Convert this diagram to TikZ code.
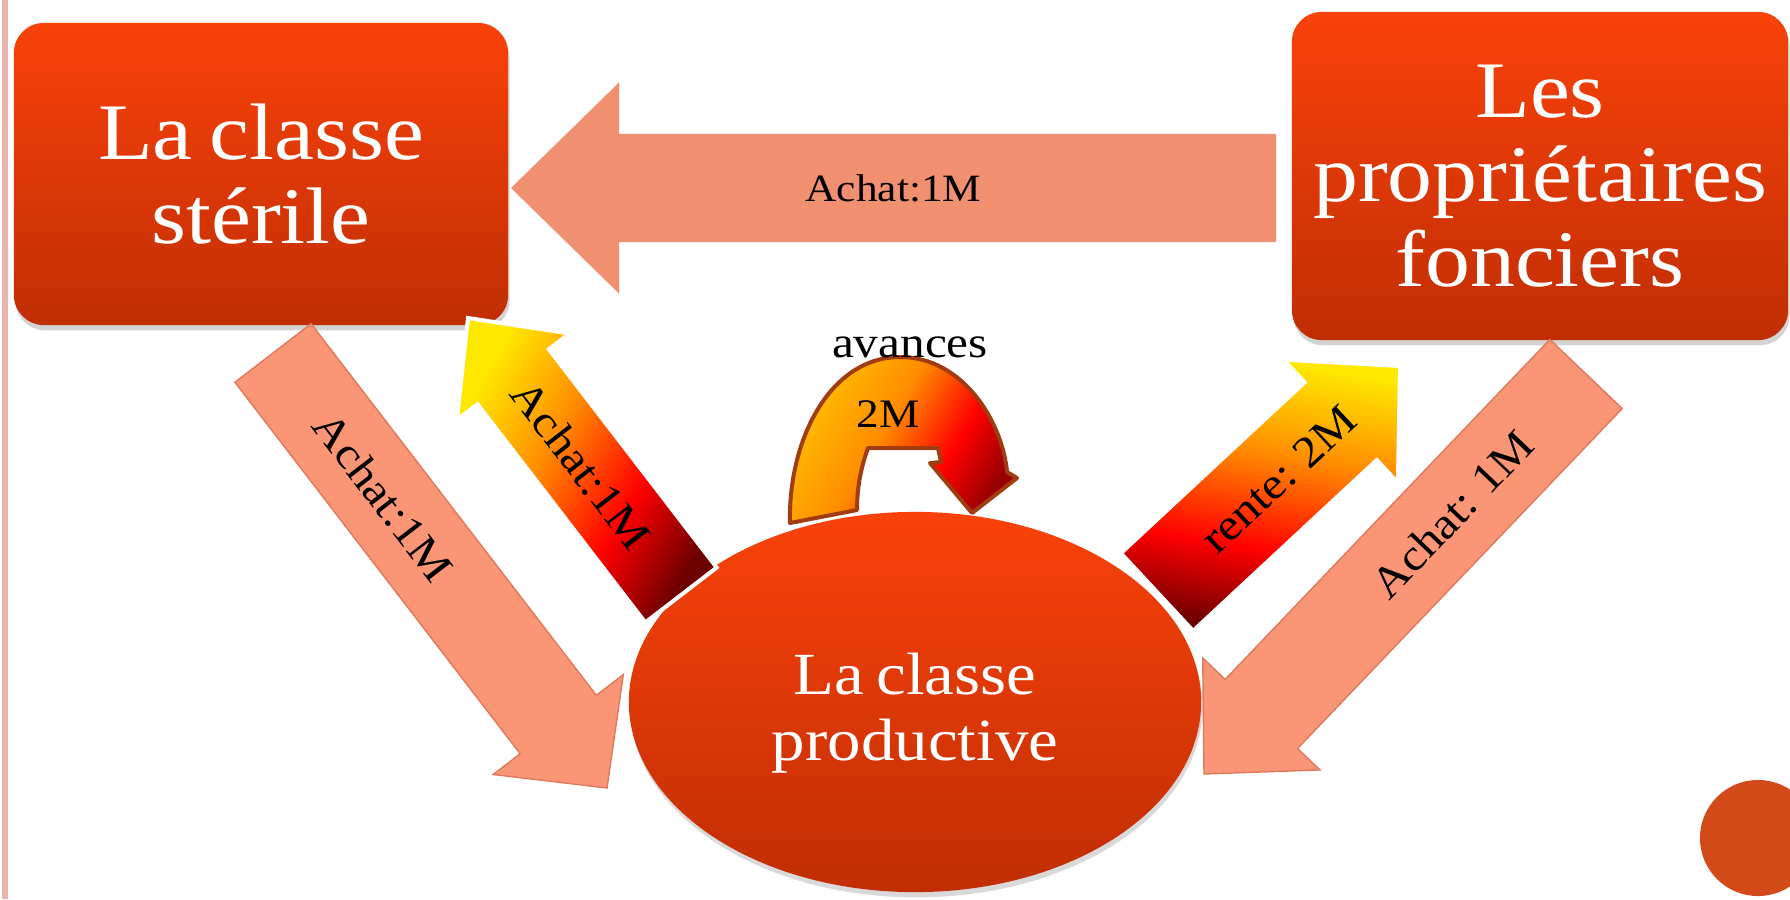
\documentclass[tikz,border=0pt]{standalone}
\usepackage{fontspec}
\setmainfont{Liberation Serif}[FakeStretch=1.12, WordSpace=0.75]
\usetikzlibrary{calc,shapes.geometric,shadows}

\definecolor{boxtop}{RGB}{249,66,10}
\definecolor{boxbottom}{RGB}{192,46,4}
\definecolor{salmon}{RGB}{250,150,118}
\definecolor{salmonedge}{RGB}{222,122,92}
\definecolor{paleflow}{RGB}{240,144,112}
\definecolor{fireyellow}{RGB}{255,232,0}
\definecolor{fireorange}{RGB}{255,140,0}
\definecolor{firered}{RGB}{255,0,0}
\definecolor{firedark}{RGB}{110,0,0}
\definecolor{arcrim}{RGB}{160,60,15}
\definecolor{dotred}{RGB}{209,74,24}
\definecolor{margin}{RGB}{232,180,174}

\pgfdeclarehorizontalshading{fire}{100bp}{color(0bp)=(fireyellow); color(25bp)=(fireyellow);
  color(42bp)=(fireorange); color(60bp)=(firered); color(75bp)=(firedark); color(100bp)=(firedark)}
\pgfdeclarehorizontalshading{curl}{100bp}{color(0bp)=(fireyellow!55!fireorange); color(25bp)=(fireyellow!55!fireorange);
  color(45bp)=(fireorange); color(62bp)=(firered); color(75bp)=(firedark!70!firered); color(100bp)=(firedark!70!firered)}

% block arrow: style, tail, tip, half shaft, half head, head length
\newcommand\flowarrow[6]{%
  \coordinate (fa-base) at ($(#3)!#6!(#2)$);
  \path[#1] ($(#2)!#4!90:(#3)$) -- ($(fa-base)!#4!90:(#3)$) -- ($(fa-base)!#5!90:(#3)$) -- (#3)
    -- ($(fa-base)!#5!-90:(#3)$) -- ($(fa-base)!#4!-90:(#3)$) -- ($(#2)!#4!-90:(#3)$) -- cycle;
}

\begin{document}
\begin{tikzpicture}[x=0.01cm, y=-0.01cm,
   every node/.style={inner sep=0pt, font=\fontsize{12.5}{14}\selectfont},
   class/.style={rounded corners=0.3cm, top color=boxtop, bottom color=boxbottom, text=white,
     align=center, font=\fontsize{22.8}{24}\selectfont,
     drop shadow={opacity=0.35, shadow xshift=0.4pt, shadow yshift=-1.5pt}},
   round class/.style={ellipse, top color=boxtop, bottom color=boxbottom, text=white,
     align=center, font=\fontsize{17}{18.8}\selectfont,
     drop shadow={opacity=0.3, shadow xshift=0.4pt, shadow yshift=-1.5pt}},
   purchase/.style={fill=salmon, draw=salmonedge, line width=0.4pt},
   income/.style={shading=fire, draw=white, line width=0.04cm},
   curl arrow/.style={shading=curl, shading angle=-30, draw=arcrim, line width=0.04cm, line join=round}]

\useasboundingbox (0,0) rectangle (1790,899);
\fill[margin] (2,0) rectangle (8,899);
\fill[dotred] (1758,838) circle[radius=0.58cm];

\node[class, minimum width=4.94cm, minimum height=3.02cm] (sterile) at (261,174) {La classe\\stérile};
\node[class, minimum width=4.96cm, minimum height=3.28cm] (proprietaires) at (1540,176) {Les\\propriétaires\\fonciers};
\node[round class, minimum width=5.72cm, minimum height=3.8cm] (productive) at (915,702) {\rule{0pt}{0.63cm}La classe\\productive};

% flows
\coordinate (top-tail) at (1276,188);  \coordinate (top-tip) at (511,188);
\coordinate (ster-tail) at (273,353);  \coordinate (ster-tip) at (607,788);
\coordinate (prod-tail) at (681,595);  \coordinate (prod-tip) at (468,318);
\coordinate (rent-tail) at (1157,592); \coordinate (rent-tip) at (1400,366);
\coordinate (prop-tail) at (1586,374); \coordinate (prop-tip) at (1204,774);

\flowarrow{fill=paleflow}{top-tail}{top-tip}{0.54cm}{1.055cm}{1.08cm}
\flowarrow{purchase}{ster-tail}{ster-tip}{0.48cm}{0.82cm}{0.8cm}
\flowarrow{purchase}{prop-tail}{prop-tip}{0.5cm}{0.81cm}{0.83cm}
\flowarrow{income, shading angle=-30}{prod-tail}{prod-tip}{0.45cm}{0.71cm}{0.74cm}
\flowarrow{income, shading angle=-100}{rent-tail}{rent-tip}{0.53cm}{0.84cm}{0.81cm}

\path (top-tail) -- (top-tip) node[midway, sloped, font=\fontsize{11}{13}\selectfont] {Achat:1M};
\path (ster-tail) -- (ster-tip) node[pos=0.33, sloped] {Achat:1M};
\path (prod-tail) -- (prod-tip) node[pos=0.47, sloped] {Achat:1M};
\path (rent-tail) -- (rent-tip) node[pos=0.5, sloped] {rente: 2M};
\path (prop-tail) -- (prop-tip) node[pos=0.35, sloped] {Achat: 1M};

% avances
\draw[curl arrow] (790,523) .. controls (788,440) and (830,357) .. (900,357)
   .. controls (965,357) and (1003,425) .. (1007,472) -- (1017,478) -- (972,513) -- (930,463)
   -- (941,462) -- (938,448) -- (868,448) .. controls (860,470) and (857,490) .. (857,510) -- cycle;
\node[anchor=base] (avances) at (910,357) {avances};
\node[anchor=base, font=\fontsize{11.5}{13}\selectfont] (deuxM) at (888,427) {2M};

\end{tikzpicture}
\end{document}
